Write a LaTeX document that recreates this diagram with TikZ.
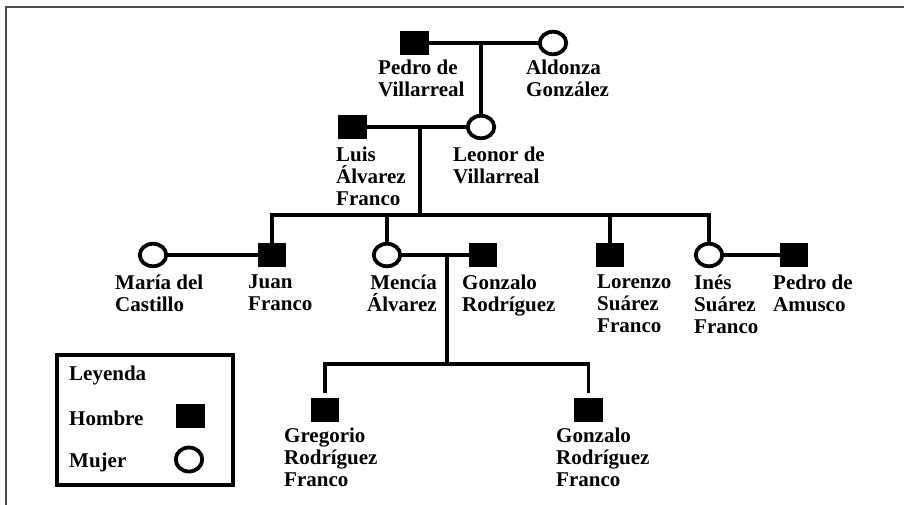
\documentclass[tikz,border=0pt]{standalone}
\usepackage{fontspec}
\setmainfont{Liberation Serif}
\usepackage{tikz}
\usetikzlibrary{shapes.geometric}

\begin{document}
\begin{tikzpicture}[x=1pt,y=-1pt,
  hombre/.style={rectangle,fill=black,minimum width=28.5pt,minimum height=24pt,inner sep=0pt},
  mujer/.style={ellipse,draw=black,fill=white,line width=3.8pt,minimum width=26.5pt,minimum height=22.5pt,inner sep=0pt},
  nombre/.style={anchor=north west,align=left,inner sep=0pt,font=\fontsize{21}{22}\selectfont\bfseries},
  rel/.style={line width=3.6pt}]
  \useasboundingbox (0,0) rectangle (904,505);
  \draw[line width=2pt,black!70] (6,505) -- (6,7) -- (904,7);

  % primera generacion
  \node[hombre] (pedro) at (414.5,43) {};
  \node[mujer] (aldonza) at (553,43) {};
  \node[nombre] (tpedro) at (378,60) {Pedro de\\Villarreal};
  \node[nombre] (taldonza) at (526,60) {Aldonza\\González};
  \coordinate (m1) at (481,43);

  % segunda generacion
  \node[hombre] (luis) at (352.5,127) {};
  \node[mujer] (leonor) at (481,127) {};
  \node[nombre] (tluis) at (336,147) {Luis\\Álvarez\\Franco};
  \node[nombre] (tleonor) at (453,147) {Leonor de\\Villarreal};
  \coordinate (m2) at (420,127);
  \coordinate (b3) at (420,215);

  % tercera generacion
  \node[mujer] (maria) at (153,255) {};
  \node[hombre] (juan) at (272,255) {};
  \node[mujer] (mencia) at (387,255) {};
  \node[hombre] (gonzalo) at (483,255) {};
  \node[hombre] (lorenzo) at (610,255) {};
  \node[mujer] (ines) at (709,255) {};
  \node[hombre] (amusco) at (794,255) {};
  \node[nombre] (tmaria) at (115,275) {María del\\Castillo};
  \node[nombre] (tjuan) at (248,275) {Juan\\Franco};
  \node[nombre,anchor=north east,align=right] (tmencia) at (437,275) {Mencía\\Álvarez};
  \node[nombre] (tgonzalo) at (462,275) {Gonzalo\\Rodríguez};
  \node[nombre] (tlorenzo) at (597,275) {Lorenzo\\Suárez\\Franco};
  \node[nombre] (tines) at (694,275) {Inés\\Suárez\\Franco};
  \node[nombre] (tamusco) at (773,275) {Pedro de\\Amusco};
  \coordinate (m3) at (447,255);
  \coordinate (b4) at (447,364);

  % cuarta generacion
  \node[hombre] (gregorio) at (325,410) {};
  \node[hombre] (gonzalob) at (588.5,410) {};
  \node[nombre] (tgregorio) at (284,428) {Gregorio\\Rodríguez\\Franco};
  \node[nombre] (tgonzalob) at (556,428) {Gonzalo\\Rodríguez\\Franco};

  % uniones
  \draw[rel] (pedro) -- (aldonza);
  \draw[rel] (m1) -- (leonor.north);
  \draw[rel] (luis) -- (leonor);
  \draw[rel] (m2) -- (b3);
  \draw[rel] (juan.north) |- (b3) -| (ines.north);
  \draw[rel] (mencia.north) -- (mencia.north |- b3);
  \draw[rel] (lorenzo.north) -- (lorenzo.north |- b3);
  \draw[rel] (maria) -- (juan);
  \draw[rel] (mencia) -- (gonzalo);
  \draw[rel] (ines) -- (amusco);
  \draw[rel] (m3) -- (b4);
  \draw[rel] ([yshift=5pt]gregorio.north) |- (b4) -| ([yshift=5pt]gonzalob.north);

  % leyenda
  \draw[line width=3.8pt] (57,355) rectangle (233,485);
  \node[nombre,anchor=west] (leyenda) at (69,375) {Leyenda};
  \node[nombre,anchor=west] (thombre) at (69,418) {Hombre};
  \node[nombre,anchor=west] (tmujer) at (69,462) {Mujer};
  \node[hombre] (lhombre) at (190.5,416) {};
  \node[mujer,minimum height=24pt] (lmujer) at (189,459.5) {};
\end{tikzpicture}
\end{document}
